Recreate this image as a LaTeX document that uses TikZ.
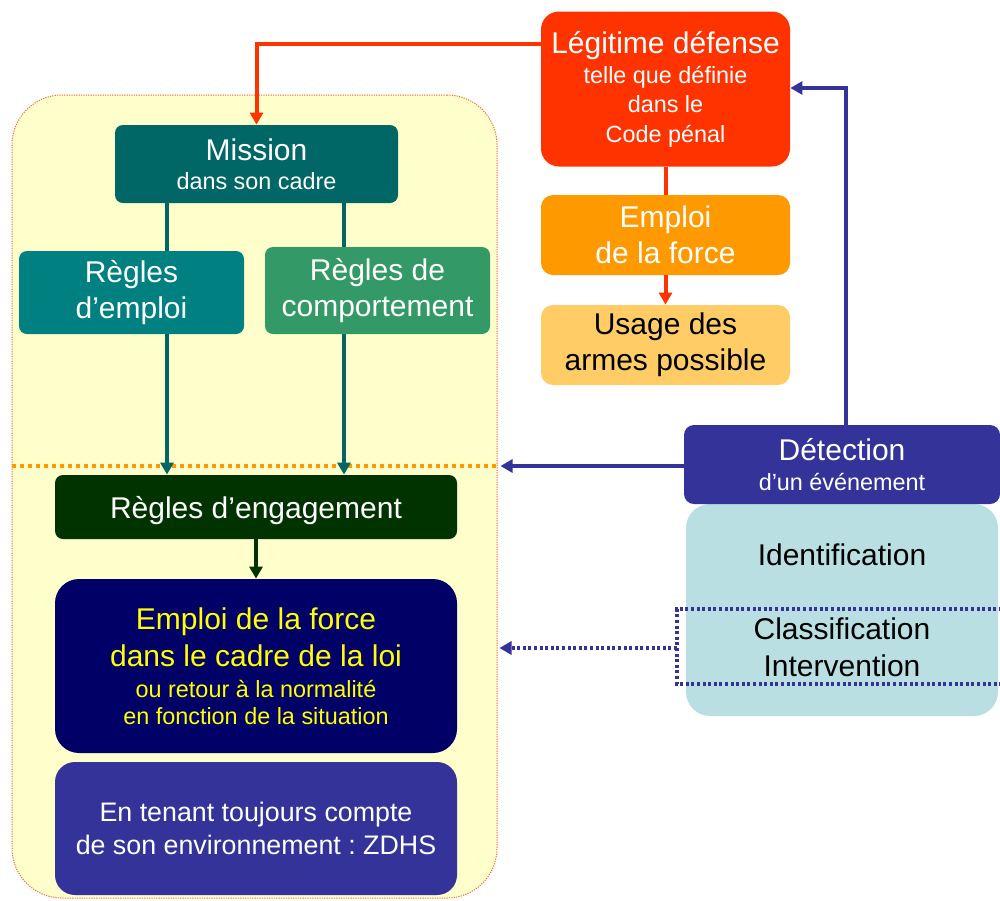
\documentclass[tikz,border=0pt]{standalone}
\usepackage{fontspec}
\setmainfont{Liberation Sans}
\usetikzlibrary{arrows.meta,calc}
\frenchspacing
\definecolor{bgyellow}{HTML}{FFFFCC}
\definecolor{bgborder}{HTML}{FF6633}
\definecolor{missionc}{HTML}{006666}
\definecolor{emploic}{HTML}{008080}
\definecolor{compc}{HTML}{339966}
\definecolor{redc}{HTML}{FF3300}
\definecolor{orangec}{HTML}{FF9900}
\definecolor{lorangec}{HTML}{FFCC66}
\definecolor{engc}{HTML}{003300}
\definecolor{navyc}{HTML}{000066}
\definecolor{bluec}{HTML}{333399}
\definecolor{lbluec}{HTML}{B9DFE2}
\definecolor{yellowtxt}{HTML}{FFFF00}
\newcommand\fbig{\fontsize{15}{18}\selectfont}
\newcommand\fsmall{\fontsize{11.7}{14}\selectfont}
\newcommand\fmid{\fontsize{13.4}{16.7}\selectfont}
\begin{document}
\begin{tikzpicture}[x=0.5pt,y=-0.5pt,
  box/.style={rectangle, inner sep=0pt, align=center, text=white, font=\fbig},
  tip/.style={-{Triangle[length=6pt,width=6.5pt]}},
  dotblue/.style={draw=bluec, line width=1.7pt, dash pattern=on 1.5pt off 1.3pt},
]
\useasboundingbox (0,0) rectangle (1000,900);

% background panel
\node[rectangle, draw=bgborder, line width=0.5pt, dash pattern=on 0.6pt off 0.6pt,
  fill=bgyellow, rounded corners=25pt, minimum width=242.5pt, minimum height=401.5pt,
  inner sep=0pt] (bg) at (254.5,496.5) {};
\draw[orangec, line width=2pt, dash pattern=on 2pt off 2pt] (bg.west |- 0,466) -- (bg.east |- 0,466);

% boxes
\node[box, fill=missionc, rounded corners=4pt, minimum width=141.5pt, minimum height=39pt] (mission) at (256.5,164)
  {Mission\\[-3.5pt]\fsmall dans son cadre};
\node[box, fill=redc, rounded corners=9pt, minimum width=124.5pt, minimum height=77.5pt] (legit) at (665.5,89)
  {Légitime défense\\[-3pt]\fsmall telle que définie\\[-3.5pt]\fsmall dans le\\[-3pt]\fsmall Code pénal};
\node[box, fill=orangec, rounded corners=6pt, minimum width=124.5pt, minimum height=40pt] (emp) at (665.5,235)
  {Emploi\\de la force};
\node[box, fill=lorangec, text=black, rounded corners=6pt, minimum width=124.5pt, minimum height=40pt] (usage) at (665.5,345)
  {Usage des\\armes possible};
\node[box, fill=engc, rounded corners=4pt, minimum width=201pt, minimum height=32pt, text depth=0pt] (engage) at (256,507)
  {Règles d’engagement};
\node[box, fill=navyc, text=yellowtxt, rounded corners=12pt, minimum width=201pt, minimum height=87pt] (force) at (256,666)
  {Emploi de la force\\[0.5pt] dans le cadre de la loi\\[-2.5pt]\fsmall ou retour à la normalité\\[-4.5pt]\fsmall en fonction de la situation};
\node[box, fill=bluec, rounded corners=10pt, minimum width=201pt, minimum height=66.5pt, font=\fmid, text depth=0pt] (tenant) at (256,828.5)
  {En tenant toujours compte\\de son environnement : ZDHS};
\node[box, fill=lbluec, text=black, rounded corners=12pt, minimum width=156pt, minimum height=106pt] (ident) at (842,610)
  {Identification\\[19pt]Classification\\[0.3pt]Intervention};
\node[box, fill=bluec, rounded corners=5pt, minimum width=158pt, minimum height=39.5pt] (detect) at (842,464.5)
  {Détection\\[-3pt]\fsmall d’un événement};

% connectors
\draw[redc, line width=2pt, tip] (legit.west |- 0,44) -| (mission.north);
\draw[redc, line width=2pt] (legit.south) -- (emp.north);
\draw[redc, line width=2pt, tip] (emp.south) -- (usage.north);
\draw[missionc, line width=2pt, tip] (mission.south -| 167,0) -- (engage.north -| 167,0);
\draw[missionc, line width=2pt, tip] (mission.south -| 344,0) -- (engage.north -| 344,0);
\draw[engc, line width=1.7pt, tip] (engage.south) -- (force.north);
\draw[bluec, line width=1.7pt, tip] (detect.west |- 0,466) -- ([xshift=1.5pt]bg.east |- 0,466);
\draw[bluec, line width=1.7pt, tip] (detect.north -| 846,0) |- (legit.east |- 0,88);

% dotted selection and arrow
\coordinate (dotL) at (677,648);
\draw[dotblue] (1002,609) -- (677,609) -- (677,684) -- (1002,684);
\draw[dotblue, tip] (dotL) -- ([xshift=1pt]bg.east |- dotL);

% Regles boxes drawn over the teal lines
\node[box, fill=emploic, rounded corners=4pt, minimum width=112.5pt, minimum height=41.5pt] (remploi) at (131.5,292.5)
  {Règles\\d’emploi};
\node[box, fill=compc, rounded corners=4pt, minimum width=112.5pt, minimum height=43.5pt] (rcomp) at (377.5,290.5)
  {Règles de\\comportement};
\end{tikzpicture}
\end{document}
